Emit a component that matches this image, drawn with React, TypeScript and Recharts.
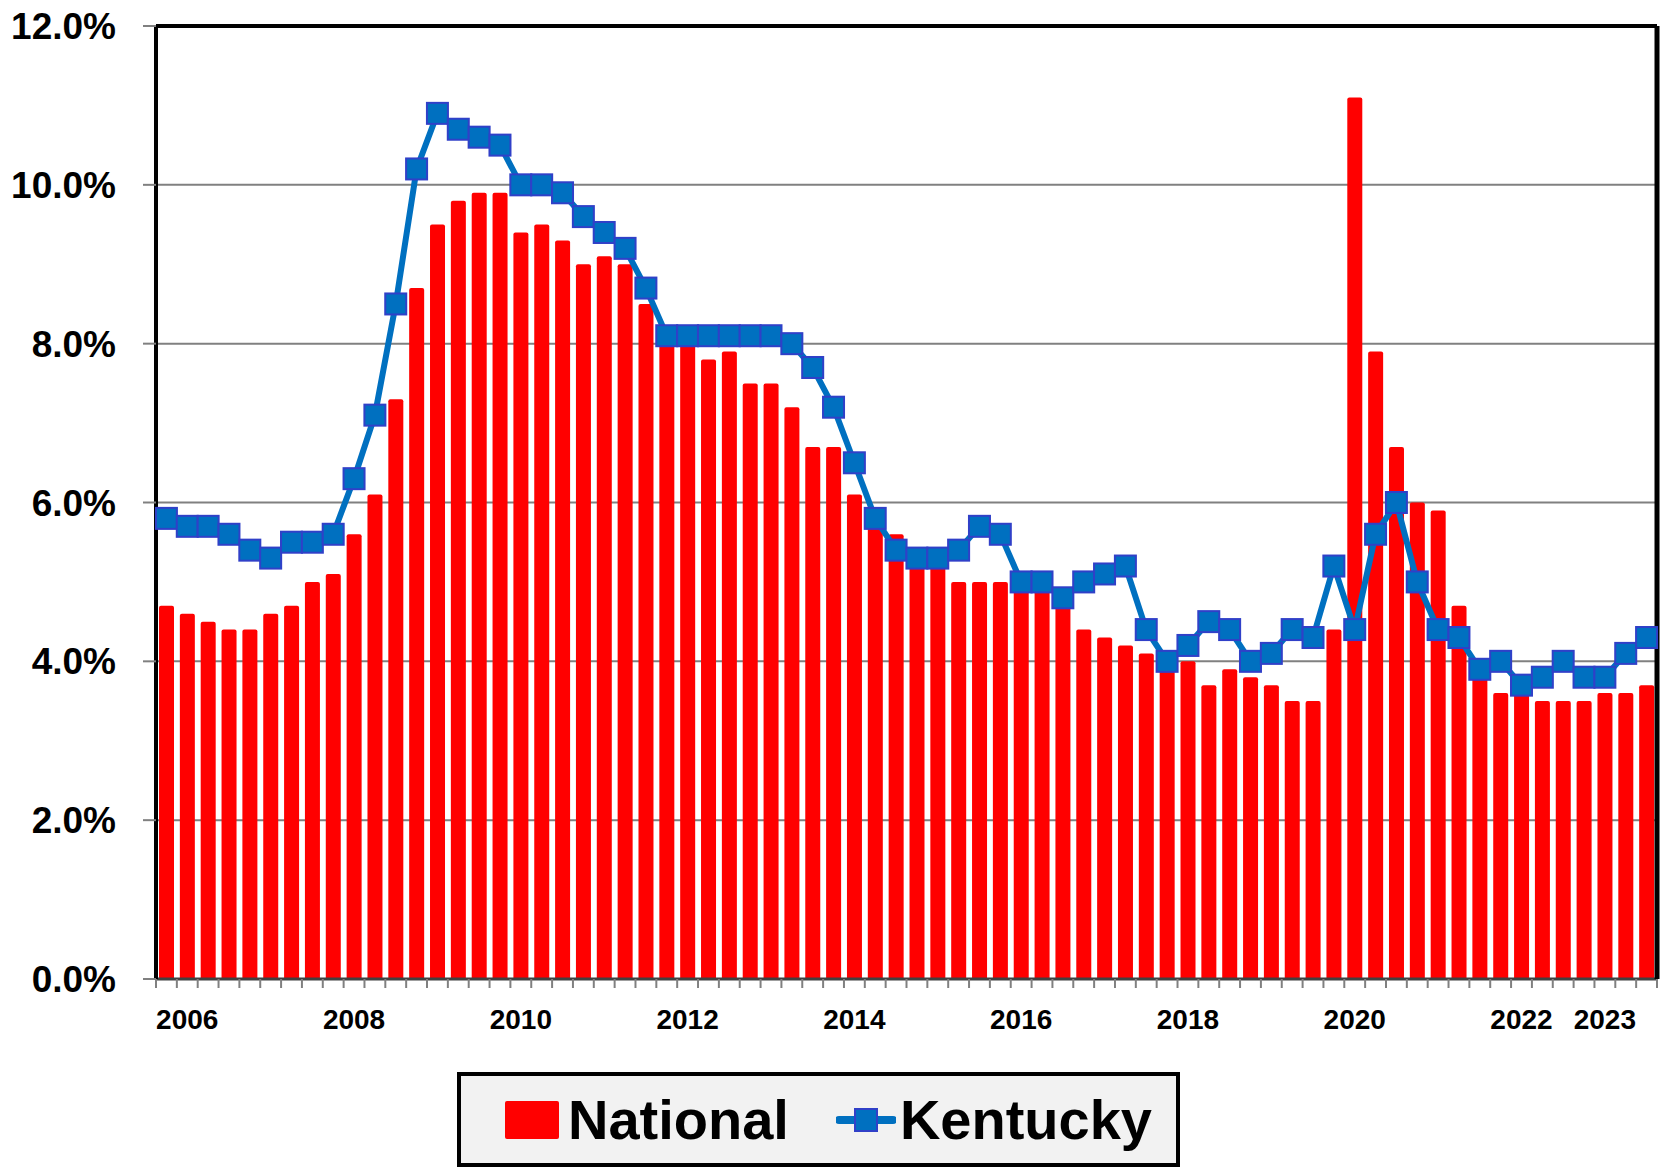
import React from 'react';
import { ComposedChart, Bar, Line, XAxis, YAxis, CartesianGrid, Legend } from 'recharts';

const years = [2006, 2007, 2008, 2009, 2010, 2011, 2012, 2013, 2014, 2015, 2016, 2017, 2018, 2019, 2020, 2021, 2022, 2023];
const quarters = years.flatMap((y) => [1, 2, 3, 4].map((q) => `${y}Q${q}`));

const national = [
  4.7, 4.6, 4.5, 4.4, 4.4, 4.6, 4.7, 5.0, 5.1, 5.6,
  6.1, 7.3, 8.7, 9.5, 9.8, 9.9, 9.9, 9.4, 9.5, 9.3,
  9.0, 9.1, 9.0, 8.5, 8.1, 8.0, 7.8, 7.9, 7.5, 7.5,
  7.2, 6.7, 6.7, 6.1, 5.7, 5.6, 5.3, 5.2, 5.0, 5.0,
  5.0, 4.9, 4.9, 4.7, 4.4, 4.3, 4.2, 4.1, 3.9, 4.0,
  3.7, 3.9, 3.8, 3.7, 3.5, 3.5, 4.4, 11.1, 7.9, 6.7,
  6.0, 5.9, 4.7, 3.8, 3.6, 3.6, 3.5, 3.5, 3.5, 3.6,
  3.6, 3.7,
];

const kentucky = [
  5.8, 5.7, 5.7, 5.6, 5.4, 5.3, 5.5, 5.5, 5.6, 6.3,
  7.1, 8.5, 10.2, 10.9, 10.7, 10.6, 10.5, 10.0, 10.0, 9.9,
  9.6, 9.4, 9.2, 8.7, 8.1, 8.1, 8.1, 8.1, 8.1, 8.1,
  8.0, 7.7, 7.2, 6.5, 5.8, 5.4, 5.3, 5.3, 5.4, 5.7,
  5.6, 5.0, 5.0, 4.8, 5.0, 5.1, 5.2, 4.4, 4.0, 4.2,
  4.5, 4.4, 4.0, 4.1, 4.4, 4.3, 5.2, 4.4, 5.6, 6.0,
  5.0, 4.4, 4.3, 3.9, 4.0, 3.7, 3.8, 4.0, 3.8, 3.8,
  4.1, 4.3,
];

const xLabelTicks = ['2006Q2', '2008Q2', '2010Q2', '2012Q2', '2014Q2', '2016Q2', '2018Q2', '2020Q2', '2022Q2', '2023Q2'];
const yTicks = [0, 2, 4, 6, 8, 10, 12];

const data = quarters.map((q, i) => ({ q, national: national[i], kentucky: kentucky[i] }));

const FONT = '"Liberation Sans", Arial, sans-serif';
const BLUE = '#0070C0';
const MARKER_EDGE = '#3040C8';
const LABEL_GAP = 30;
const TICK_LEN = 9;

const CatTick = (props: any) => {
  const { x, y, payload, index } = props;
  const half = payload && payload.offset ? payload.offset : 0;
  const axisY = y - LABEL_GAP;
  const value: string = payload ? payload.value : '';
  const isLast = index === quarters.length - 1;
  return (
    <g>
      <line x1={x - half} x2={x - half} y1={axisY} y2={axisY + TICK_LEN} stroke="#808080" strokeWidth={2} />
      {isLast && (
        <line x1={x + half} x2={x + half} y1={axisY} y2={axisY + TICK_LEN} stroke="#808080" strokeWidth={2} />
      )}
      {xLabelTicks.includes(value) && (
        <text
          x={x}
          y={y}
          dy="0.71em"
          textAnchor="middle"
          fill="#000"
          fontSize={28}
          fontWeight={700}
          fontFamily={FONT}
        >
          {value.slice(0, 4)}
        </text>
      )}
    </g>
  );
};

const SquareDot = (props: any) => {
  const { cx, cy, index } = props;
  if (cx == null || cy == null) return <g key={`d${index}`} />;
  const s = 21;
  return (
    <rect
      key={`d${index}`}
      x={cx - s / 2}
      y={cy - s / 2}
      width={s}
      height={s}
      fill={BLUE}
      stroke={MARKER_EDGE}
      strokeWidth={2}
    />
  );
};

const LegendBox = () => (
  <div
    style={{
      boxSizing: 'border-box',
      width: 723,
      height: 95,
      border: '4px solid #000',
      background: '#F2F2F2',
      display: 'flex',
      alignItems: 'center',
      paddingLeft: 44,
      fontFamily: FONT,
      fontWeight: 700,
      fontSize: 56,
      color: '#000',
      lineHeight: 1,
    }}
  >
    <div style={{ width: 54, height: 38, background: '#FF0000', borderRadius: 2, marginRight: 9 }} />
    <span style={{ marginRight: 47 }}>National</span>
    <svg width={60} height={26} style={{ marginRight: 4 }}>
      <line x1={3} y1={13} x2={57} y2={13} stroke={BLUE} strokeWidth={8} strokeLinecap="round" />
      <rect x={19} y={2} width={22} height={22} fill={BLUE} stroke={MARKER_EDGE} strokeWidth={2} />
    </svg>
    <span>Kentucky</span>
  </div>
);

export default function App() {
  return (
    <div style={{ position: 'absolute', left: 0, top: 0, width: 1661, height: 1169, background: '#fff' }}>
      <ComposedChart
        width={1661}
        height={1169}
        data={data}
        margin={{ top: 25, right: 3, bottom: 0, left: 0 }}
        barSize={15}
      >
        <CartesianGrid vertical={false} stroke="#808080" strokeWidth={2} />
        <XAxis
          dataKey="q"
          interval={0}
          height={190}
          tickLine={false}
          tickSize={0}
          tickMargin={LABEL_GAP}
          axisLine={{ stroke: '#404040', strokeWidth: 3 }}
          tick={<CatTick />}
        />
        <XAxis
          xAxisId="top"
          orientation="top"
          height={1}
          axisLine={{ stroke: '#000', strokeWidth: 4 }}
          tick={false}
          tickLine={false}
        />
        <YAxis
          domain={[0, 12]}
          ticks={yTicks}
          interval={0}
          width={156}
          tickSize={13}
          tickMargin={27}
          tickFormatter={(v: number) => `${v.toFixed(1)}%`}
          axisLine={{ stroke: '#000', strokeWidth: 4 }}
          tickLine={{ stroke: '#808080', strokeWidth: 2 }}
          tick={{ fill: '#000', fontSize: 37, fontWeight: 700, fontFamily: FONT }}
        />
        <YAxis
          yAxisId="right"
          orientation="right"
          width={1}
          domain={[0, 12]}
          axisLine={{ stroke: '#000', strokeWidth: 5 }}
          tick={false}
          tickLine={false}
        />
        <Bar dataKey="national" name="National" fill="#FF0000" radius={[2, 2, 0, 0]} isAnimationActive={false} />
        <Line
          dataKey="kentucky"
          name="Kentucky"
          type="linear"
          stroke={BLUE}
          strokeWidth={6}
          dot={SquareDot}
          activeDot={false}
          isAnimationActive={false}
        />
        <Legend
          layout="horizontal"
          verticalAlign="middle"
          align="center"
          wrapperStyle={{ top: 1072, left: 457, width: 723, height: 95 }}
          content={() => <LegendBox />}
        />
      </ComposedChart>
    </div>
  );
}
